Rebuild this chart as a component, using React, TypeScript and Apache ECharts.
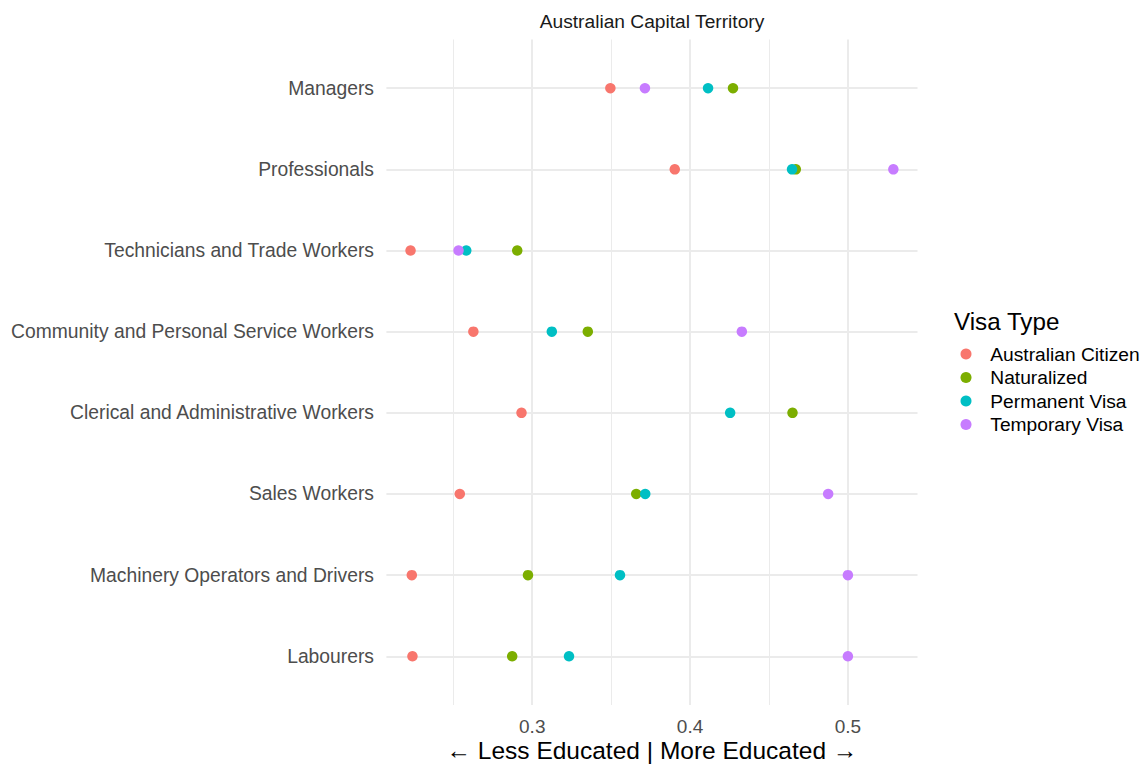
import React, { useEffect, useRef } from "react";
import * as echarts from "echarts";

const categories = [
  "Managers",
  "Professionals",
  "Technicians and Trade Workers",
  "Community and Personal Service Workers",
  "Clerical and Administrative Workers",
  "Sales Workers",
  "Machinery Operators and Drivers",
  "Labourers",
];

const visaTypes = ["Australian Citizen", "Naturalized", "Permanent Visa", "Temporary Visa"];

const australianCitizen = [0.3495, 0.3903, 0.2229, 0.2627, 0.2932, 0.2541, 0.2237, 0.2241];
const naturalized = [0.4272, 0.467, 0.2905, 0.3352, 0.4649, 0.3659, 0.2973, 0.2873];
const permanentVisa = [0.4114, 0.4646, 0.2582, 0.3124, 0.4254, 0.3716, 0.3556, 0.3233];
const temporaryVisa = [0.3714, 0.5288, 0.2533, 0.4328, null, 0.4875, 0.5, 0.5];

const xTickLabels = [0.3, 0.4, 0.5];
const majorGrid = [0.3, 0.4, 0.5];
const minorGrid = [0.25, 0.35, 0.45];

const colors = ["#F8766D", "#7CAE00", "#00BFC4", "#C77CFF"];
const FONT = "'Liberation Sans', Arial, sans-serif";

export default function App() {
  const ref = useRef<HTMLDivElement>(null);

  useEffect(() => {
    if (!ref.current) return;
    const chart = echarts.init(ref.current, null, { renderer: "svg" });
    const seriesValues = [australianCitizen, naturalized, permanentVisa, temporaryVisa];

    const gridLines: any[] = [];
    minorGrid.forEach((v) => gridLines.push({ xAxis: v, lineStyle: { width: 1, color: "#ebebeb", type: "solid" } }));
    majorGrid.forEach((v) => gridLines.push({ xAxis: v, lineStyle: { width: 2, color: "#ebebeb", type: "solid" } }));
    categories.forEach((_, i) => gridLines.push({ yAxis: i, lineStyle: { width: 2, color: "#ebebeb", type: "solid" } }));

    const option: any = {
      animation: false,
      backgroundColor: "#ffffff",
      textStyle: { fontFamily: FONT },
      grid: {
        left: 386.4,
        right: 228.5,
        top: 39.5,
        bottom: 60,
        containLabel: false,
        outerBoundsMode: "none",
      },
      xAxis: {
        type: "value",
        min: 0.2076,
        max: 0.5441,
        axisLine: { show: false },
        axisTick: { show: false },
        splitLine: { show: false },
        axisLabel: {
          customValues: xTickLabels,
          formatter: (v: number) => String(Math.round(v * 10) / 10),
          color: "#4d4d4d",
          fontSize: 19,
          fontFamily: FONT,
          margin: 12,
        },
        name: "← Less Educated | More Educated →",
        nameLocation: "middle",
        nameGap: 33,
        nameMoveOverlap: false,
        nameTextStyle: { color: "#000000", fontSize: 24.5, fontFamily: FONT },
      },
      yAxis: {
        type: "value",
        inverse: true,
        min: -0.6,
        max: 7.6,
        axisLine: { show: false },
        axisTick: { show: false },
        splitLine: { show: false },
        axisLabel: {
          customValues: categories.map((_, i) => i),
          formatter: (v: number) => categories[Math.round(v)] ?? "",
          color: "#4d4d4d",
          fontSize: 19.3,
          fontFamily: FONT,
          margin: 12.4,
        },
      },
      legend: {
        orient: "vertical",
        left: 960.5,
        top: 344.5,
        padding: 0,
        itemWidth: 38.6,
        itemHeight: 11,
        itemGap: 4.5,
        icon: "circle",
        data: visaTypes,
        textStyle: { color: "#000000", fontSize: 19.2, lineHeight: 19, fontFamily: FONT, padding: [0, 0, 0, 0] },
      },
      graphic: [
        {
          type: "text",
          x: 652,
          y: 21,
          style: {
            text: "Australian Capital Territory",
            align: "center",
            verticalAlign: "middle",
            fontSize: 19.2,
            fontFamily: FONT,
            fill: "#1a1a1a",
          },
        },
        {
          type: "text",
          x: 954,
          y: 321.7,
          style: {
            text: "Visa Type",
            align: "left",
            verticalAlign: "middle",
            fontSize: 24.2,
            fontFamily: FONT,
            fill: "#000000",
          },
        },
      ],
      series: [
        {
          type: "scatter",
          name: "grid",
          data: [],
          silent: true,
          z: 1,
          markLine: {
            silent: true,
            symbol: ["none", "none"],
            label: { show: false },
            emphasis: { disabled: true },
            data: gridLines,
          },
        },
        ...visaTypes.map((name, k) => ({
          type: "scatter",
          name,
          z: 5 + k,
          symbol: "circle",
          symbolSize: 10.5,
          itemStyle: { color: colors[k], opacity: 1 },
          data: seriesValues[k]
            .map((v, i) => (v === null ? null : [v, i]))
            .filter((d) => d !== null),
        })),
      ],
    };

    chart.setOption(option);
    return () => chart.dispose();
  }, []);

  return (
    <div
      ref={ref}
      style={{ position: "fixed", left: 0, top: 0, width: 1146, height: 765, background: "#fff" }}
    />
  );
}
